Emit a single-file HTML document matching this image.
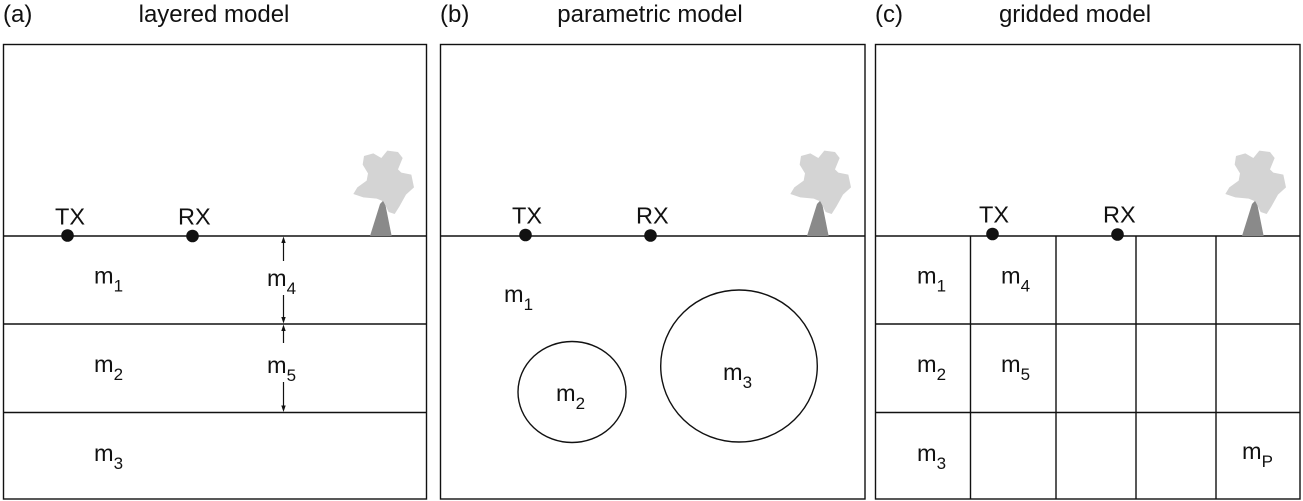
<!DOCTYPE html>
<html><head><meta charset="utf-8"><style>
html,body{margin:0;padding:0;background:#fff;}
svg{display:block;}
text{font-family:"Liberation Sans",Arial,sans-serif;fill:#111;}
</style></head><body>
<svg width="1303" height="501" viewBox="0 0 1303 501" xmlns="http://www.w3.org/2000/svg">
<defs>
<g id="tree">
<polygon points="90,288 120,192 133,178 155,288" fill="#8a8a8a"/>
<polygon points="72,48 100,40 124,54 142,32 174,36 188,54 174,88 184,98 214,104 222,142 198,164 178,200 164,222 146,216 130,184 110,176 70,172 40,162 52,142 80,122 84,100 68,74" fill="#d4d4d4"/>
</g>
</defs>
<rect width="1303" height="501" fill="#fff"/>

<!-- Titles -->
<text x="3" y="22" font-size="24">(a)</text>
<text x="214" y="22" font-size="24" text-anchor="middle">layered model</text>
<text x="440" y="22" font-size="24">(b)</text>
<text x="650" y="22" font-size="24" text-anchor="middle">parametric model</text>
<text x="875" y="22" font-size="24">(c)</text>
<text x="1075" y="22" font-size="24" text-anchor="middle">gridded model</text>

<g fill="none" stroke="#111" stroke-width="1.4">
<rect x="3.5" y="44.5" width="423" height="454.5"/>
<rect x="440.5" y="44.5" width="424.5" height="454.5"/>
<rect x="875.5" y="44.5" width="424.5" height="454.5"/>
<!-- (a) layers -->
<line x1="3.5" y1="236" x2="426.5" y2="236"/>
<line x1="3.5" y1="324" x2="426.5" y2="324"/>
<line x1="3.5" y1="412.5" x2="426.5" y2="412.5"/>
<!-- (b) -->
<line x1="440.5" y1="236" x2="865" y2="236"/>
<ellipse cx="572" cy="392" rx="54" ry="50.5"/>
<ellipse cx="739" cy="366" rx="78.3" ry="76"/>
<!-- (c) grid -->
<line x1="875.5" y1="236" x2="1300" y2="236"/>
<line x1="875.5" y1="324" x2="1300" y2="324"/>
<line x1="875.5" y1="412.5" x2="1300" y2="412.5"/>
<line x1="970.5" y1="236" x2="970.5" y2="499"/>
<line x1="1056" y1="236" x2="1056" y2="499"/>
<line x1="1136" y1="236" x2="1136" y2="499"/>
<line x1="1216" y1="236" x2="1216" y2="499"/>
</g>

<!-- arrows (a) -->
<g stroke="#111" stroke-width="1.2">
<line x1="283.5" y1="240" x2="283.5" y2="261"/>
<line x1="283.5" y1="295" x2="283.5" y2="320"/>
<line x1="283.5" y1="328" x2="283.5" y2="343"/>
<line x1="283.5" y1="382" x2="283.5" y2="408"/>
</g>
<g fill="#111">
<polygon points="283.5,236.5 281.3,243 285.7,243"/>
<polygon points="283.5,323.5 281.3,317 285.7,317"/>
<polygon points="283.5,324.5 281.3,331 285.7,331"/>
<polygon points="283.5,412 281.3,405.5 285.7,405.5"/>
</g>

<!-- trees -->
<use href="#tree" transform="translate(340,140) scale(0.3333)"/>
<use href="#tree" transform="translate(777,140) scale(0.3333)"/>
<use href="#tree" transform="translate(1212,140) scale(0.3333)"/>

<!-- TX / RX -->
<g fill="#111">
<circle cx="67.5" cy="235.5" r="6.3"/>
<circle cx="192.5" cy="236" r="6.3"/>
<circle cx="525.5" cy="235" r="6.3"/>
<circle cx="650.5" cy="235.5" r="6.3"/>
<circle cx="992.5" cy="234" r="6.3"/>
<circle cx="1117.5" cy="234.5" r="6.3"/>
</g>
<g font-size="23.5">
<text x="55" y="224.5">TX</text>
<text x="178" y="224.5">RX</text>
<text x="512" y="223.5">TX</text>
<text x="636" y="223.5">RX</text>
<text x="979" y="222.5">TX</text>
<text x="1103" y="222.5">RX</text>
</g>

<!-- m labels -->
<g font-size="23.5">
<text x="94" y="283.5">m<tspan font-size="17" dy="8">1</tspan></text>
<text x="94" y="372">m<tspan font-size="17" dy="8">2</tspan></text>
<text x="94" y="461">m<tspan font-size="17" dy="8">3</tspan></text>
<text x="267" y="286">m<tspan font-size="17" dy="8">4</tspan></text>
<text x="267" y="373">m<tspan font-size="17" dy="8">5</tspan></text>

<text x="504" y="302">m<tspan font-size="17" dy="8">1</tspan></text>
<text x="556" y="401">m<tspan font-size="17" dy="8">2</tspan></text>
<text x="723" y="380">m<tspan font-size="17" dy="8">3</tspan></text>

<text x="917" y="283.5">m<tspan font-size="17" dy="8">1</tspan></text>
<text x="1001" y="283.5">m<tspan font-size="17" dy="8">4</tspan></text>
<text x="917" y="372">m<tspan font-size="17" dy="8">2</tspan></text>
<text x="1001" y="372">m<tspan font-size="17" dy="8">5</tspan></text>
<text x="917" y="461">m<tspan font-size="17" dy="8">3</tspan></text>
<text x="1242" y="459">m<tspan font-size="17" dy="8">P</tspan></text>
</g>
</svg>
</body></html>
